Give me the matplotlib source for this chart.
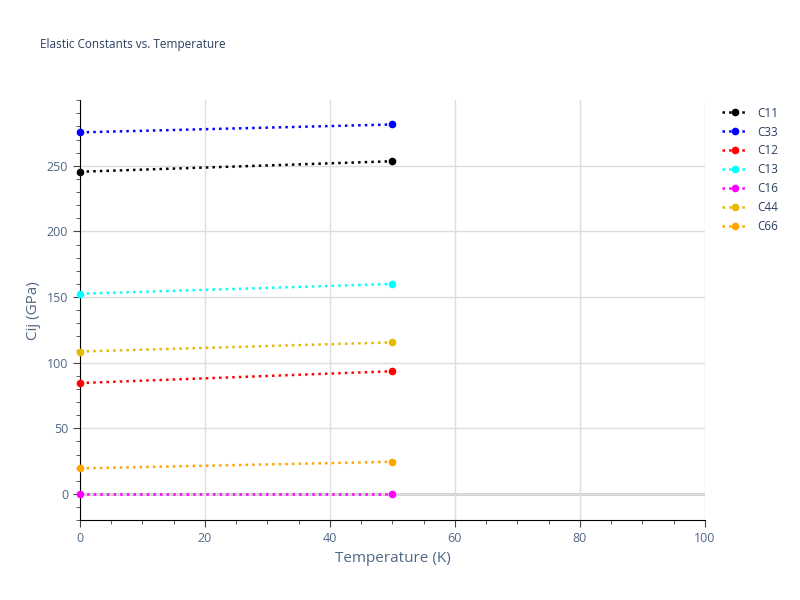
import matplotlib.pyplot as plt
from matplotlib.ticker import MultipleLocator

plt.rcParams['font.family'] = ['Open Sans', 'DejaVu Sans']

temps = [0, 50]
names = ['C11', 'C33', 'C12', 'C13', 'C16', 'C44', 'C66']
c11 = [245.5, 253.5]
c33 = [275.5, 281.5]
c12 = [84.5, 93.5]
c13 = [152.5, 160.0]
c16 = [0.0, 0.0]
c44 = [108.5, 115.5]
c66 = [19.5, 24.5]
series = [c11, c33, c12, c13, c16, c44, c66]
colors = ['black', 'blue', 'red', 'cyan', 'magenta', '#e6b800', 'orange']

fig = plt.figure(figsize=(8, 6), dpi=100)
ax = fig.add_axes([0.1, 0.133, 0.781, 0.7])
for name, vals, col in zip(names, series, colors):
    ax.plot(temps, vals, ':', color=col, marker='o', ms=4.5, lw=1.8, label=name, clip_on=False, zorder=3)

ax.set_xlim(0, 100)
ax.set_ylim(-20, 300)
ax.set_yticks([0, 50, 100, 150, 200, 250])
ax.xaxis.set_minor_locator(MultipleLocator(5))
ax.yaxis.set_minor_locator(MultipleLocator(10))
ax.grid(True, which='major', color='#dddddd', lw=1)
ax.axhline(0, color='#cccccc', lw=2, zorder=1)
for s in ['top', 'right']:
    ax.spines[s].set_visible(False)
ax.tick_params(which='both', color='#444444', labelcolor='#506784', labelsize=9)
ax.tick_params(which='major', length=5)
ax.tick_params(which='minor', length=3)
ax.set_xlabel('Temperature (K)', color='#506784', fontsize=11)
ax.set_ylabel('Cij (GPa)', color='#506784', fontsize=11)
fig.text(0.05, 0.92, 'Elastic Constants vs. Temperature', color='#2a3f5f', fontsize=8.5)
ax.legend(loc='upper left', bbox_to_anchor=(1.01, 1.01), frameon=False, fontsize=8.5,
          labelcolor='#2a3f5f', handlelength=2.2)
fig.savefig('out.png')
